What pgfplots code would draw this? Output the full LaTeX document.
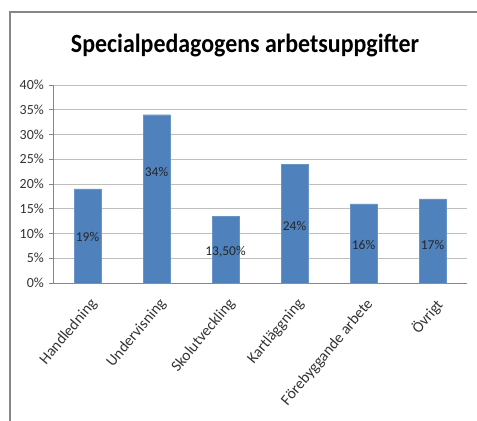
\documentclass[border=0pt]{standalone}
\usepackage{pgfplots}
\pgfplotsset{compat=1.18}
\usepackage{fontspec}
\setmainfont{Carlito}
\definecolor{barblue}{HTML}{4F81BD}
\definecolor{framegray}{HTML}{868686}
\definecolor{gridgray}{HTML}{BFBFBF}
\definecolor{txt}{HTML}{333333}
\begin{document}
\begin{tikzpicture}[x=1bp,y=1bp]
\useasboundingbox (0,0) rectangle (477,420);
\draw[color=framegray, line width=1.2bp] (10,-20) -- (10,408) -- (500,408);
\node[font=\fontsize{24}{28}\selectfont\bfseries, inner sep=0pt, yscale=1.1] at (245,374) {Specialpedagogens arbetsuppgifter};
\begin{axis}[
  at={(53bp,137bp)}, anchor=south west,
  scale only axis, width=414bp, height=198bp,
  xmin=0.5, xmax=6.5, ymin=0, ymax=40,
  ytick={0,5,...,40},
  yticklabel={\pgfmathprintnumber{\tick}\%},
  /pgf/number format/assume math mode=true,
  ymajorgrids, grid style={gridgray, line width=0.8bp},
  axis x line*=bottom, axis y line*=left,
  axis line style={framegray, line width=0.8bp},
  tick style={framegray, line width=0.8bp},
  tick align=outside,
  major tick length=4bp,
  xtick={1,...,6},
  xticklabels={Handledning,Undervisning,Skolutveckling,Kartläggning,Förebyggande arbete,Övrigt},
  x tick style={draw=none},
  minor xtick={0.5,1.5,...,6.5},
  minor x tick style={framegray, line width=0.8bp},
  minor tick length=5bp,
  yticklabel style={font=\fontsize{14}{16}\selectfont, text=txt, inner sep=2pt, xshift=-3bp},
  xticklabel style={font=\fontsize{15.5}{18}\selectfont, text=txt, xshift=1.5bp, yshift=-10bp, rotate=50, anchor=north east, inner sep=0pt},
]
\addplot[ybar, bar width=27bp, fill=barblue, draw=barblue!85!white] coordinates {(1,19)(2,34)(3,13.5)(4,24)(5,16)(6,17)};
\addplot[draw=none, mark=none, nodes near coords={\pgfplotspointmeta\%}, point meta=explicit symbolic,
  nodes near coords align=center,
  every node near coord/.append style={font=\fontsize{13.5}{15}\selectfont, text=black!85, inner sep=0pt}]
  table[meta=l] {
x y l
1 9.3 19
2 22.4 34
3 6.3 13,50
4 11.5 24
5 7.7 16
6 7.7 17
};
\end{axis}
\end{tikzpicture}
\end{document}
